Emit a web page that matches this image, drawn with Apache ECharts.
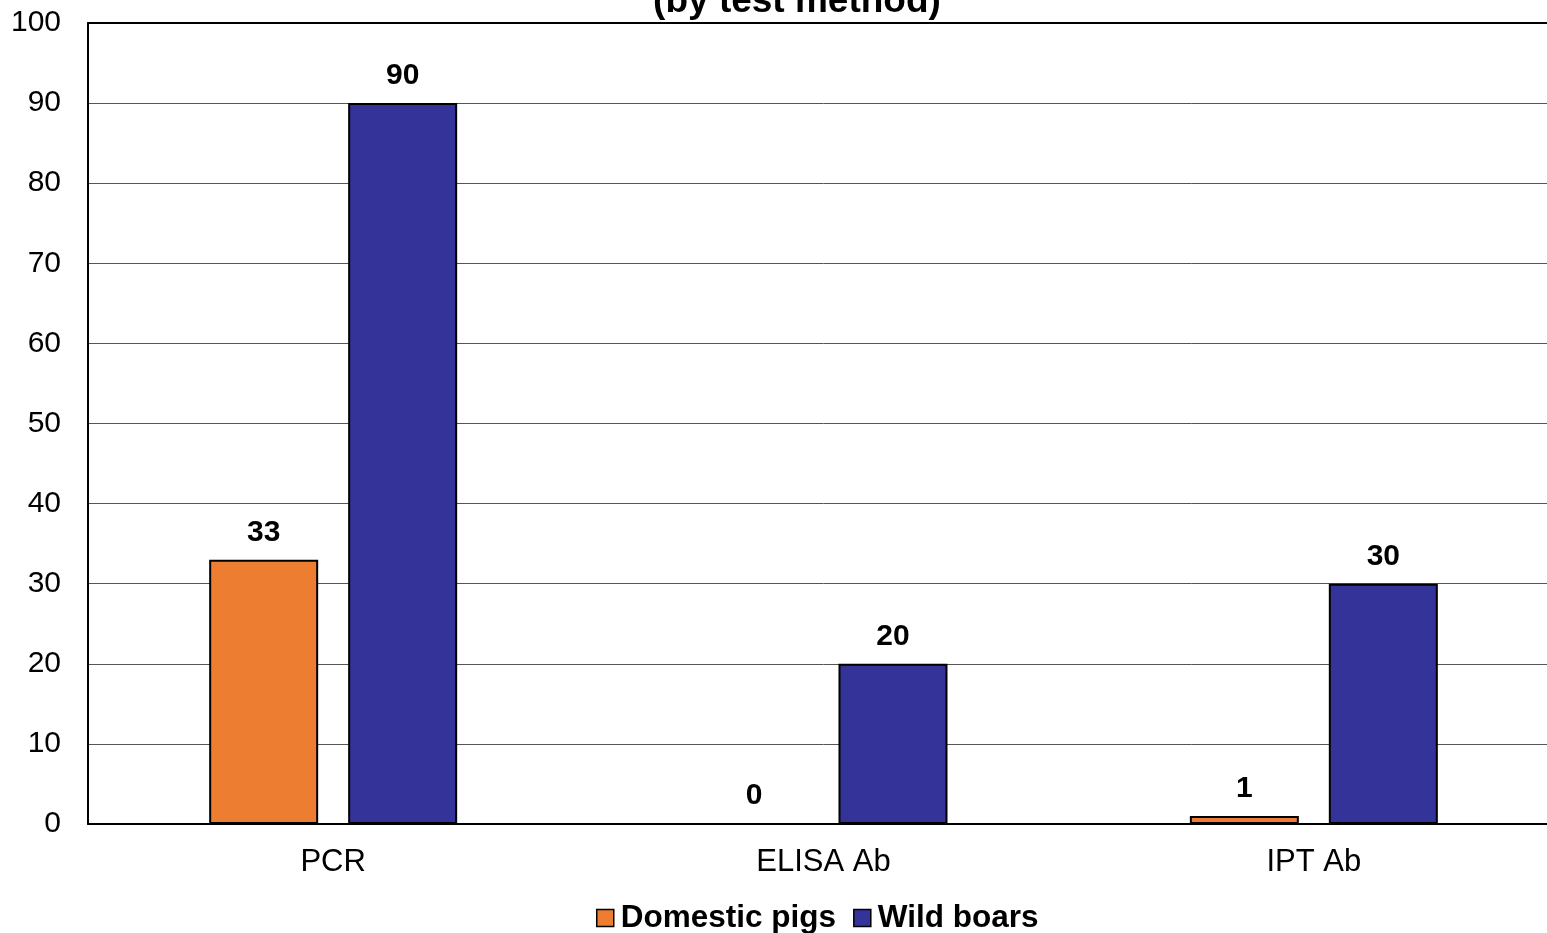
<!DOCTYPE html>
<html>
<head>
<meta charset="utf-8">
<script src="https://cdn.jsdelivr.net/npm/echarts@6/dist/echarts.min.js"></script>
<style>
  html, body { margin: 0; padding: 0; background: #fff; overflow: hidden; }
  /* the plot area continues a little past the right edge of the window */
  #chart { width: 1559px; height: 933px; }
</style>
</head>
<body>
<div id="chart"></div>
<script>
// Positive results by test method
const categories = ['PCR', 'ELISA Ab', 'IPT Ab'];
const domesticPigs = [33, 0, 1];
const wildBoars = [90, 20, 30];
const yTicks = { min: 0, max: 100, interval: 10 };
const subtitle = '(by test method)';

const FONT = '"Liberation Sans", Arial, sans-serif';

const chart = echarts.init(document.getElementById('chart'));

const barLabel = {
  show: true,
  position: 'top',
  distance: 12,
  fontFamily: FONT,
  fontSize: 30,
  fontWeight: 'bold',
  color: '#000'
};

chart.setOption({
  animation: false,
  backgroundColor: '#fff',
  grid: { left: 88, right: 0, top: 23, bottom: 109, containLabel: false },
  graphic: [{
    type: 'text',
    x: 797,
    y: 20,
    style: {
      text: subtitle,
      fontFamily: FONT,
      fontSize: 37,
      fontWeight: 'bold',
      fill: '#000',
      align: 'center',
      verticalAlign: 'bottom'
    }
  }],
  legend: {
    bottom: -6,
    left: 591,
    itemWidth: 17,
    itemHeight: 17,
    itemGap: 17,
    icon: 'rect',
    itemStyle: { borderColor: '#000', borderWidth: 1.5 },
    textStyle: { fontFamily: FONT, fontSize: 31.5, fontWeight: 'bold', color: '#000', padding: [0, 0, 0, 2] },
    data: ['Domestic pigs', 'Wild boars']
  },
  xAxis: [{
    type: 'category',
    data: categories,
    axisLine: { lineStyle: { color: '#000', width: 2 } },
    axisTick: { show: false },
    axisLabel: { fontFamily: FONT, fontSize: 31, color: '#000', margin: 23 },
    splitLine: { show: false }
  }, {
    type: 'category',
    position: 'top',
    data: categories,
    axisLine: { show: true, lineStyle: { color: '#000', width: 2 } },
    axisTick: { show: false },
    axisLabel: { show: false }
  }],
  yAxis: {
    type: 'value',
    min: yTicks.min,
    max: yTicks.max,
    interval: yTicks.interval,
    axisLine: { show: true, lineStyle: { color: '#000', width: 2 } },
    axisTick: { show: false },
    axisLabel: { fontFamily: FONT, fontSize: 30, color: '#000', margin: 27 },
    splitLine: { show: true, lineStyle: { color: '#555', width: 1 } }
  },
  series: [{
    name: 'Domestic pigs',
    type: 'bar',
    data: domesticPigs,
    barWidth: 109,
    barGap: '27.5%',
    itemStyle: { color: '#ED7D31', borderColor: '#000', borderWidth: 2 },
    label: barLabel
  }, {
    name: 'Wild boars',
    type: 'bar',
    data: wildBoars,
    barWidth: 109,
    barGap: '27.5%',
    itemStyle: { color: '#333399', borderColor: '#000', borderWidth: 2 },
    label: barLabel
  }]
});
</script>
</body>
</html>
